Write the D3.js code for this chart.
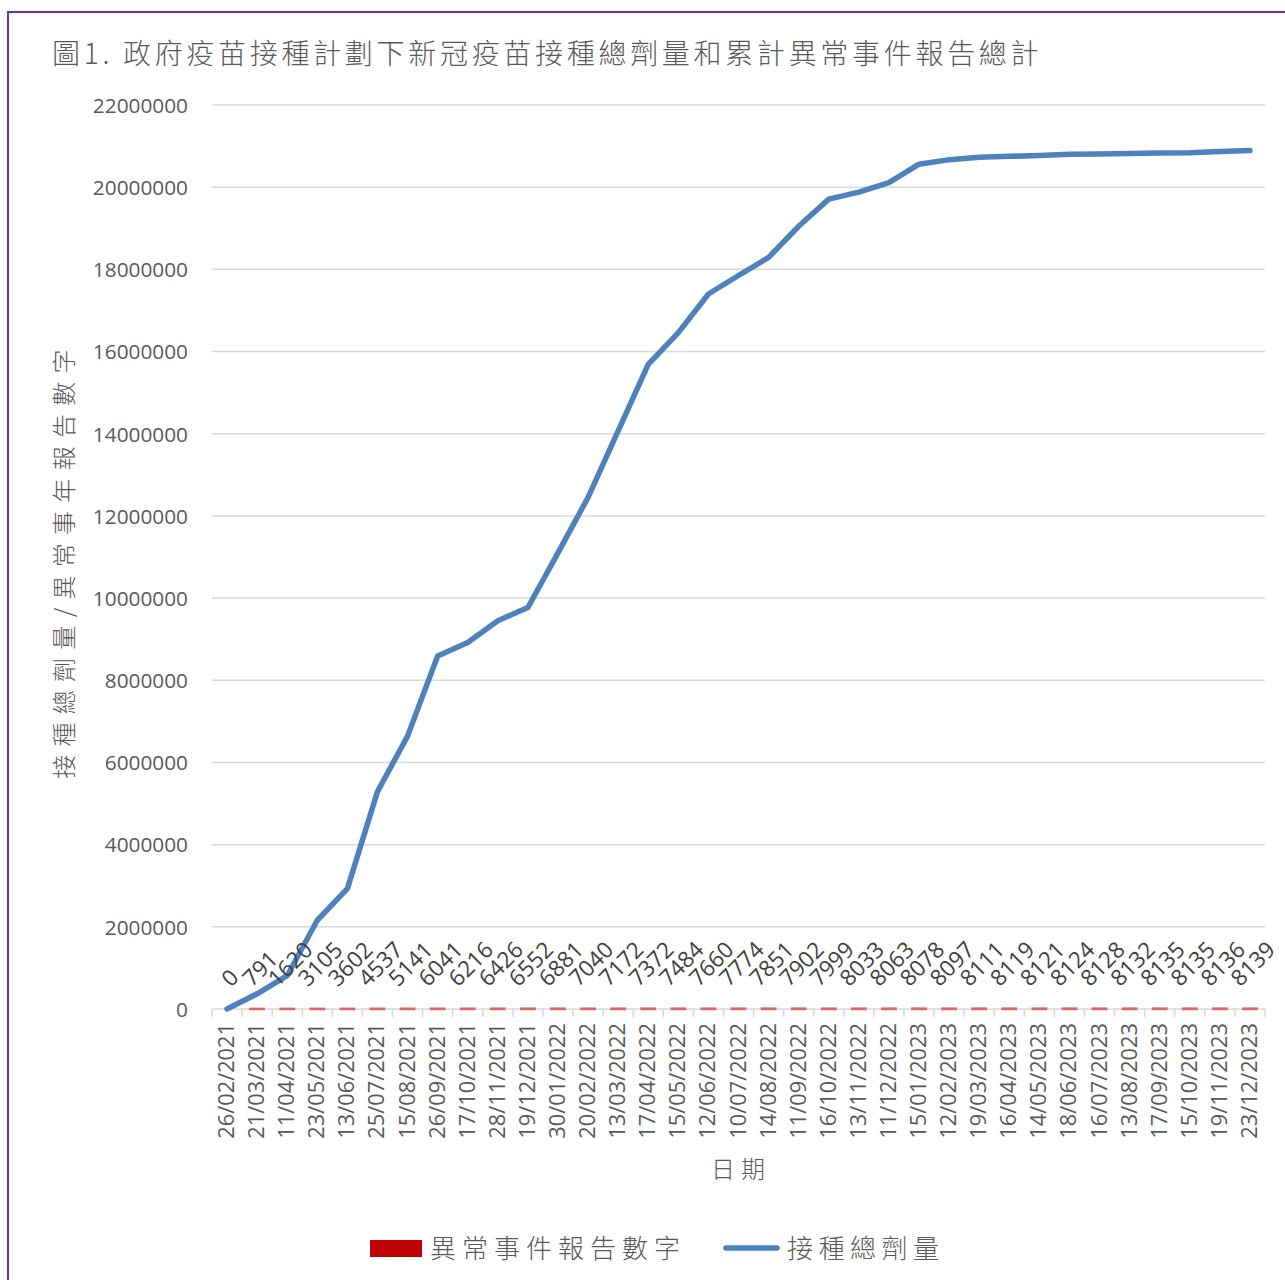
<!DOCTYPE html>
<html>
<head>
<meta charset="utf-8">
<script src="https://cdn.jsdelivr.net/npm/d3@7"></script>
<style>
  html, body { margin: 0; padding: 0; background: #fff; }
  svg { display: block; }
</style>
</head>
<body>
<svg id="chart" width="1285" height="1280"></svg>
<script>
const dates = ["26/02/2021","21/03/2021","11/04/2021","23/05/2021","13/06/2021","25/07/2021","15/08/2021","26/09/2021","17/10/2021","28/11/2021","19/12/2021","30/01/2022","20/02/2022","13/03/2022","17/04/2022","15/05/2022","12/06/2022","10/07/2022","14/08/2022","11/09/2022","16/10/2022","13/11/2022","11/12/2022","15/01/2023","12/02/2023","19/03/2023","16/04/2023","14/05/2023","18/06/2023","16/07/2023","13/08/2023","17/09/2023","15/10/2023","19/11/2023","23/12/2023"];
const adverseEvents = [0,791,1620,3105,3602,4537,5141,6041,6216,6426,6552,6881,7040,7172,7372,7484,7660,7774,7851,7902,7999,8033,8063,8078,8097,8111,8119,8121,8124,8128,8132,8135,8135,8136,8139];
const totalDoses = [0,370000,810000,2160000,2930000,5290000,6640000,8590000,8920000,9450000,9770000,11100000,12450000,14070000,15690000,16460000,17400000,17850000,18290000,19050000,19710000,19880000,20110000,20560000,20670000,20730000,20750000,20770000,20800000,20810000,20820000,20830000,20840000,20870000,20890000];
const yTicks = [0,2000000,4000000,6000000,8000000,10000000,12000000,14000000,16000000,18000000,20000000,22000000];
const titleText = "圖1. 政府疫苗接種計劃下新冠疫苗接種總劑量和累計異常事件報告總計";
const yTitle = "接種總劑量/異常事年報告數字";
const xTitle = "日期";
const legendNames = ["異常事件報告數字", "接種總劑量"];

const svg = d3.select("#chart");
const cjk = "'Noto Sans CJK TC', 'Noto Sans CJK SC', sans-serif";
const latin = "'Open Sans', 'Noto Sans', sans-serif";
const grey = "#595959";
const blue = "#4f81bd";
const red = "#c00000";

// border
svg.append("rect").attr("x", 8).attr("y", 12).attr("width", 1400).attr("height", 1400)
  .attr("fill", "none").attr("stroke", "#7030a0").attr("stroke-width", 2);

const plotL = 212, plotR = 1265, plotT = 105, plotB = 1009;
const x = d3.scaleBand().domain(dates).range([plotL, plotR]).padding(0);
const xBar = d3.scaleBand().domain(dates).range([plotL, plotR]).paddingInner(0.56).paddingOuter(0.28);
const y = d3.scaleLinear().domain([0, 22000000]).range([plotB, plotT]);

// title
svg.append("text").attr("x", 52).attr("y", 64)
  .attr("font-family", cjk).attr("font-size", 28).attr("font-weight", 300)
  .attr("letter-spacing", 3.7).attr("fill", grey).text(titleText);

// gridlines
svg.append("g").selectAll("line").data(yTicks.filter(d => d > 0)).join("line")
  .attr("x1", plotL).attr("x2", plotR)
  .attr("y1", d => y(d)).attr("y2", d => y(d))
  .attr("stroke", "#d9d9d9").attr("stroke-width", 1.5);

// y axis labels
const yAxis = svg.append("g").attr("transform", `translate(${plotL - 24},0)`)
  .call(d3.axisLeft(y).tickValues(yTicks).tickSize(0).tickFormat(d3.format("d")));
yAxis.select(".domain").remove();
yAxis.selectAll("text").attr("font-family", latin).attr("font-size", 20.8)
  .attr("fill", grey).attr("dy", "0.35em").attr("x", 0);

// x axis baseline + ticks
svg.append("line").attr("x1", plotL).attr("x2", plotR).attr("y1", plotB).attr("y2", plotB)
  .attr("stroke", "#d9d9d9").attr("stroke-width", 1.5);
const boundaries = dates.map(d => x(d)).concat([plotR]);
svg.append("g").selectAll("line").data(boundaries).join("line")
  .attr("x1", d => d).attr("x2", d => d).attr("y1", plotB).attr("y2", plotB + 8)
  .attr("stroke", "#d9d9d9").attr("stroke-width", 1.5);

// x labels
svg.append("g").selectAll("text").data(dates).join("text")
  .attr("transform", d => `translate(${x(d) + x.bandwidth() / 2 + 7},${plotB + 14}) rotate(-90)`)
  .attr("text-anchor", "end")
  .attr("font-family", latin).attr("font-size", 21.8).attr("fill", grey)
  .text(d => d);

// bars (adverse events)
svg.append("g").selectAll("rect").data(adverseEvents).join("rect")
  .attr("x", (d, i) => xBar(dates[i]))
  .attr("width", xBar.bandwidth())
  .attr("y", d => y(d))
  .attr("height", d => y(0) - y(d))
  .attr("fill", red)
  .attr("stroke", d => d > 0 ? "#da6a6a" : "none").attr("stroke-width", 2.6);

// line (total doses)
const line = d3.line().x((d, i) => x(dates[i]) + x.bandwidth() / 2).y(d => y(d));
svg.append("path").datum(totalDoses).attr("d", line)
  .attr("fill", "none").attr("stroke", blue).attr("stroke-width", 5.5)
  .attr("stroke-linejoin", "round").attr("stroke-linecap", "round");

// data labels for adverse events
const lbl = svg.append("g").selectAll("text").data(adverseEvents).join("text")
  .attr("font-family", latin).attr("font-size", 22.5).attr("fill", "#404040")
  .attr("text-anchor", "middle").attr("dy", "0.35em")
  .text(d => d);
lbl.each(function (d, i) {
  const w = this.getComputedTextLength();
  const h = 16;
  const half = (w + h) * 0.7071 / 2;
  const cx = x(dates[i]) + x.bandwidth() / 2 + 3;
  const cy = y(d) - 21 - half;
  d3.select(this).attr("transform", `translate(${cx},${cy}) rotate(-45)`);
});

// axis titles
svg.append("text").attr("x", 741).attr("y", 1178).attr("text-anchor", "middle")
  .attr("font-family", cjk).attr("font-size", 24).attr("font-weight", 300)
  .attr("letter-spacing", 6).attr("fill", grey).text(xTitle);

svg.append("text").attr("transform", "translate(73,560) rotate(-90)").attr("text-anchor", "middle")
  .attr("font-family", cjk).attr("font-size", 24).attr("font-weight", 300)
  .attr("letter-spacing", 8.3).attr("fill", grey).text(yTitle);

// legend
const lg = svg.append("g");
lg.append("rect").attr("x", 370).attr("y", 1240).attr("width", 52).attr("height", 17).attr("fill", red);
lg.append("text").attr("x", 430).attr("y", 1258)
  .attr("font-family", cjk).attr("font-size", 26).attr("font-weight", 300)
  .attr("letter-spacing", 6).attr("fill", grey).text(legendNames[0]);
lg.append("line").attr("x1", 726).attr("x2", 777).attr("y1", 1248).attr("y2", 1248)
  .attr("stroke", blue).attr("stroke-width", 5.5).attr("stroke-linecap", "round");
lg.append("text").attr("x", 787).attr("y", 1258)
  .attr("font-family", cjk).attr("font-size", 26).attr("font-weight", 300)
  .attr("letter-spacing", 5.5).attr("fill", grey).text(legendNames[1]);
</script>
</body>
</html>
